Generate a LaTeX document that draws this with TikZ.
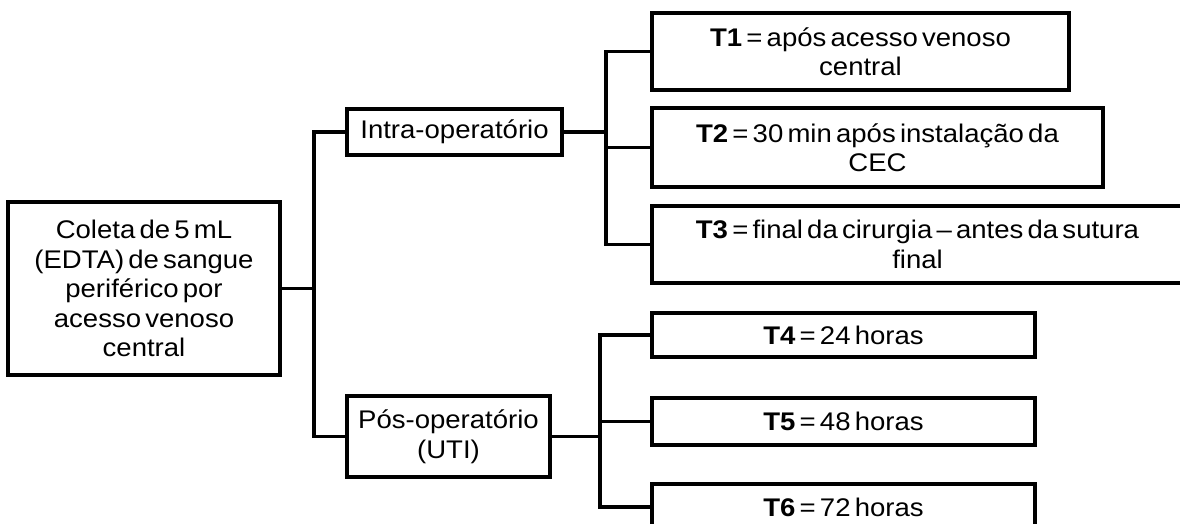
\documentclass[tikz,border=0pt]{standalone}
\usepackage{fontspec}
\setmainfont{Liberation Sans}[WordSpace=0.55, FakeStretch=1.08]
\usetikzlibrary{shadows}
\tikzset{
  box/.style={draw=black, line width=3.6pt, fill=white, inner sep=0pt, align=center,
    font=\fontsize{25.5}{29.5}\selectfont,
    drop shadow={shadow xshift=1.8pt, shadow yshift=-1.8pt, fill=black!45, opacity=1}},
  conn/.style={draw=black, line width=3.6pt, line join=miter}
}
\begin{document}
\begin{tikzpicture}[x=1pt,y=-1pt]
\useasboundingbox (0,0) rectangle (1180,523);
\clip (0,0) rectangle (1180,523);
\node[box, minimum width=272pt, minimum height=173pt] (left) at (144,288.5)
  {Coleta de 5 mL\\(EDTA) de sangue\\periférico por\\acesso venoso\\central};
\node[box, minimum width=215pt, minimum height=46pt] (intra) at (454.5,132) {Intra-operatório};
\node[box, minimum width=203pt, minimum height=81pt] (pos) at (448.5,436.5) {Pós-operatório\\(UTI)};
\node[box, minimum width=417pt, minimum height=77pt] (t1) at (860.5,51.5) {\textbf{T1} = após acesso venoso\\central};
\node[box, minimum width=451pt, minimum height=79pt] (t2) at (877.5,147.5) {\textbf{T2} = 30 min após instalação da\\CEC};
\node[box, minimum width=531pt, minimum height=77pt] (t3) at (917.5,244.5) {\textbf{T3} = final da cirurgia – antes da sutura\\final};
\node[box, minimum width=383pt, minimum height=44pt] (t4) at (843.5,335) {\textbf{T4} = 24 horas};
\node[box, minimum width=383pt, minimum height=47pt] (t5) at (843.5,421.5) {\textbf{T5} = 48 horas};
\node[box, minimum width=383pt, minimum height=46pt] (t6) at (843.5,507) {\textbf{T6} = 72 horas};
\coordinate (j1) at (314,288.5);
\coordinate (j2) at (606,132);
\coordinate (j3) at (600,436.5);
\draw[conn] (left.east) -- (j1);
\draw[conn] (intra.west) -| (j1);
\draw[conn] (pos.west) -| (j1);
\draw[conn] (intra.east) -- (j2);
\draw[conn] (t1.west) -| (j2);
\draw[conn] (t2.west) -| (j2);
\draw[conn] (t3.west) -| (j2);
\draw[conn] (pos.east) -- (j3);
\draw[conn] (t4.west) -| (j3);
\draw[conn] (t5.west) -| (j3);
\draw[conn] (t6.west) -| (j3);
\end{tikzpicture}
\end{document}
